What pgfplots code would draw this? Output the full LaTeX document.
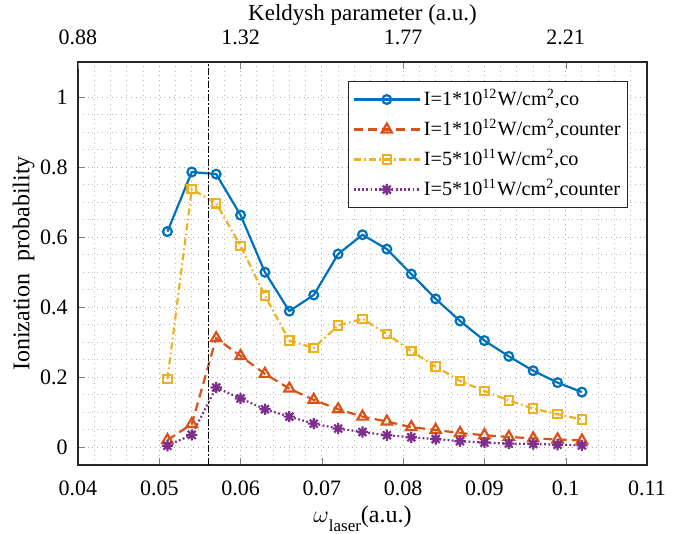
\documentclass[border=0pt]{standalone}
\usepackage{pgfplots}
\pgfplotsset{compat=1.18}
\usepackage{amsmath}
\usepackage{fontspec}
\setmainfont{Liberation Serif}
\usetikzlibrary{plotmarks}

\definecolor{mBlue}{rgb}{0,0.447,0.741}
\definecolor{mOrange}{rgb}{0.85,0.325,0.098}
\definecolor{mYellow}{rgb}{0.929,0.694,0.125}
\definecolor{mPurple}{rgb}{0.494,0.184,0.556}

% eight-armed asterisk
\pgfdeclareplotmark{ast8}{%
  \pgfpathmoveto{\pgfqpoint{-\pgfplotmarksize}{0pt}}%
  \pgfpathlineto{\pgfqpoint{\pgfplotmarksize}{0pt}}%
  \pgfpathmoveto{\pgfqpoint{0pt}{-\pgfplotmarksize}}%
  \pgfpathlineto{\pgfqpoint{0pt}{\pgfplotmarksize}}%
  \pgfpathmoveto{\pgfqpoint{-0.707\pgfplotmarksize}{-0.707\pgfplotmarksize}}%
  \pgfpathlineto{\pgfqpoint{0.707\pgfplotmarksize}{0.707\pgfplotmarksize}}%
  \pgfpathmoveto{\pgfqpoint{-0.707\pgfplotmarksize}{0.707\pgfplotmarksize}}%
  \pgfpathlineto{\pgfqpoint{0.707\pgfplotmarksize}{-0.707\pgfplotmarksize}}%
  \pgfusepathqstroke}

\pgfplotstableread{
w      coI12   ctI12   coI11   ctI11
0.051  0.616   0.021   0.195   0.005
0.054  0.786   0.067   0.737   0.036
0.057  0.780   0.312   0.697   0.171
0.060  0.663   0.261   0.575   0.140
0.063  0.500   0.210   0.433   0.109
0.066  0.389   0.168   0.305   0.088
0.069  0.435   0.136   0.284   0.068
0.072  0.552   0.109   0.348   0.054
0.075  0.607   0.088   0.367   0.044
0.078  0.566   0.074   0.324   0.035
0.081  0.495   0.058   0.275   0.029
0.084  0.424   0.050   0.231   0.024
0.087  0.361   0.041   0.190   0.018
0.090  0.305   0.035   0.161   0.014
0.093  0.260   0.030   0.134   0.011
0.096  0.219   0.026   0.111   0.010
0.099  0.185   0.023   0.095   0.008
0.102  0.158   0.020   0.080   0.006
}\probdata

\newcommand{\fsz}{\fontsize{11}{13}\selectfont\rmfamily}
\newcommand{\lsz}{\fontsize{12}{14}\selectfont\rmfamily}
\newcommand{\gsz}{\fontsize{10.1}{12}\selectfont\rmfamily}

\begin{document}
\fsz
\begin{tikzpicture}
\useasboundingbox (-39pt,-34.5pt) rectangle (303.5pt,232.5pt);
\pgfplotsset{
  base/.style={
    width=284.5pt, height=201.5pt, scale only axis,
    at={(0,0)}, anchor=south west,
    xmin=0.04, xmax=0.11,
    /pgf/number format/assume math mode=true,
    tick label style={font=\fsz, inner sep=0pt},
    label style={font=\lsz, inner sep=0pt},
    tick align=inside,
    major tick length=3.3pt,
    axis line style={line width=0.6pt, black!85},
  }
}
\begin{axis}[base,
  ymin=-0.05, ymax=1.1,
  xtick={0.04,0.05,...,0.11},
  xticklabels={0.04,0.05,0.06,0.07,0.08,0.09,0.1,0.11},
  ytick={0,0.2,0.4,0.6,0.8,1},
  yticklabels={0,0.2,0.4,0.6,0.8,1},
  xticklabel style={anchor=base, yshift=-15.2pt},
  yticklabel style={anchor=east, xshift=-5pt},
  minor x tick num=4, minor y tick num=3,
  minor tick length=0pt,
  xtick pos=bottom, ytick pos=left,
  grid=both,
  major grid style={dotted, line width=0.5pt, black!32},
  minor grid style={dotted, line width=0.5pt, black!26},
  xlabel={$\omega$\raisebox{-4.6pt}{\fontsize{8.5}{9}\selectfont laser}(a.u.)},
  ylabel={Ionization\ \ probability},
  xlabel style={at={([yshift=-28.8pt]axis description cs:0.5,0)}, anchor=base},
  ylabel style={at={([xshift=-24.3pt]axis description cs:0,0.5)}, anchor=base, rotate=0},
  legend cell align=left,
  legend style={at={(0.967,0.953)}, anchor=north east, draw=black!85,
    line width=0.6pt, fill=white, inner xsep=2pt, inner ysep=1.5pt,
    row sep=0pt,
    nodes={inner xsep=1.5pt, inner ysep=1.5pt, text height=9pt, text depth=3pt},
    font=\gsz},
  legend image code/.code={%
    \draw[mark repeat=2,mark phase=2] plot coordinates {(0pt,0pt)(16.5pt,0pt)(33pt,0pt)};},
]
\addplot[mBlue, line width=1.1pt, mark=o, mark size=2.2pt, mark options={solid, line width=1.1pt}]
  table[x=w, y=coI12] {\probdata};
\addlegendentry{I=1*10\textsuperscript{12}W/cm\textsuperscript{2},co}
\addplot[mOrange, line width=1.1pt, dash pattern=on 4.5pt off 2.6pt, mark=triangle, mark size=3pt, mark options={solid, line width=1.1pt}]
  table[x=w, y=ctI12] {\probdata};
\addlegendentry{I=1*10\textsuperscript{12}W/cm\textsuperscript{2},counter}
\addplot[mYellow, line width=1.1pt, dash pattern=on 3.5pt off 1.6pt on 0.8pt off 1.6pt, mark=square, mark size=2.1pt, mark options={solid, line width=1.1pt}]
  table[x=w, y=coI11] {\probdata};
\addlegendentry{I=5*10\textsuperscript{11}W/cm\textsuperscript{2},co}
\addplot[mPurple, line width=1.1pt, dash pattern=on 0.9pt off 1.2pt, mark=ast8, mark size=2.8pt, mark options={solid, line width=1.1pt}]
  table[x=w, y=ctI11] {\probdata};
\addlegendentry{I=5*10\textsuperscript{11}W/cm\textsuperscript{2},counter}
% reference frequency
\draw[black, line width=0.55pt, dash pattern=on 3.5pt off 1.2pt on 0.6pt off 1.2pt]
  (axis cs:0.056,-0.05) -- (axis cs:0.056,1.1);
\end{axis}
% Keldysh parameter scale along the top
\begin{axis}[base,
  axis x line*=top, axis y line=none,
  ymin=0, ymax=1,
  xtick={0.04,0.06,0.08,0.10},
  xticklabels={0.88,1.32,1.77,2.21},
  xticklabel style={anchor=base, yshift=8.5pt},
  xlabel={Keldysh parameter (a.u.)},
  xlabel style={font=\fontsize{11.5}{13}\selectfont\rmfamily,
    at={([yshift=20.7pt]axis description cs:0.5,1)}, anchor=base},
]
\end{axis}
\end{tikzpicture}
\end{document}
